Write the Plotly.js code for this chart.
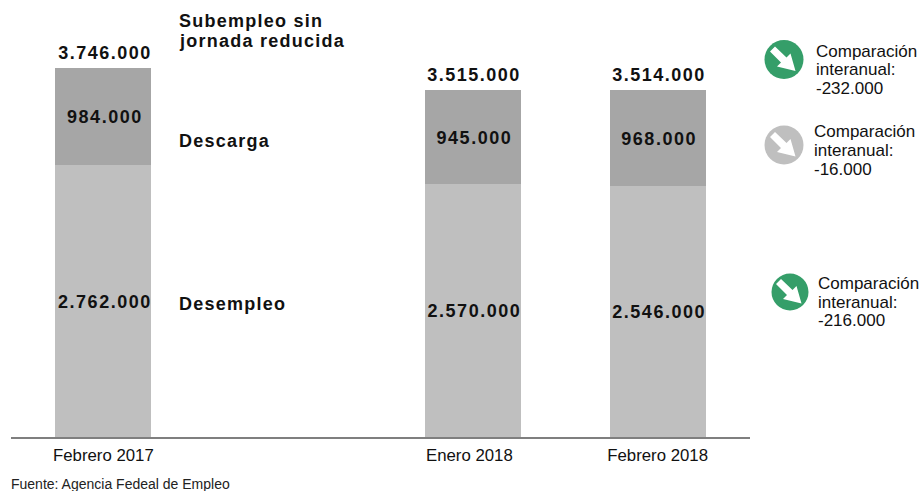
<!DOCTYPE html>
<html><head><meta charset="utf-8">
<script src="https://cdn.plot.ly/plotly-3.0.1.min.js"></script>
<style>
html,body{margin:0;padding:0;background:#fff}
</style></head><body><div id="c" style="width:924px;height:491px"></div>
<script>
const categories = ["Febrero 2017", " ", "Enero 2018", "Febrero 2018"];
const desempleo = [2762000, null, 2570000, 2546000];
const descarga = [984000, null, 945000, 968000];
const totals = [3746000, null, 3515000, 3514000];
const comparisons = [-232000, -16000, -216000];
const source = "Fuente: Agencia Fedeal de Empleo";

const fmt = v => (v < 0 ? "-" : "") + Math.abs(v).toString().replace(/\B(?=(\d{3})+$)/g, ".");
const W = 924, H = 491, L = 11, R = 174, T = 4, B = 54;
const px = x => (x - L) / (W - L - R);
const py = y => 1 - (y - T) / (H - T - B);
const boldF = {family: "Liberation Sans", size: 18, weight: 700, color: "#111"};

function icon(cx, cy, r, color) {
  const pts = [[-9,-13],[2.5,-2],[6.5,-6],[11.5,11.5],[-7,7],[-3,3],[-14,-8]];
  const d = "M" + pts.map(p => px(cx + p[0]) + "," + py(cy + p[1])).join("L") + "Z";
  return [
    {type: "circle", xref: "paper", yref: "paper", x0: px(cx - r), x1: px(cx + r), y0: py(cy + r), y1: py(cy - r), fillcolor: color, line: {width: 0}},
    {type: "path", xref: "paper", yref: "paper", path: d, fillcolor: "#fff", line: {width: 0}}
  ];
}
const note = (x, y, text, font) => ({xref: "paper", yref: "paper", x: px(x - 2), y: py(y), xanchor: "left", yanchor: "middle", align: "left", showarrow: false, text, font});
const cmpFont = {family: "Liberation Sans", size: 17, color: "#111"};
const cmpLines = (x, ys, v) => [
  note(x, ys[0], "Comparación", cmpFont),
  note(x, ys[1], "interanual:", cmpFont),
  note(x, ys[2], fmt(v), cmpFont)
];

const traces = [
  {type: "bar", x: categories, y: desempleo, marker: {color: "#bfbfbf"}, text: desempleo.map(v => v == null ? "" : fmt(v)), textposition: "inside", insidetextanchor: "middle", textangle: 0, textfont: boldF, hoverinfo: "skip"},
  {type: "bar", x: categories, y: descarga, marker: {color: "#a6a6a6"}, text: descarga.map(v => v == null ? "" : fmt(v)), textposition: "inside", insidetextanchor: "middle", textangle: 0, textfont: boldF, hoverinfo: "skip"}
];
const annotations = [];
totals.forEach((t, i) => { if (t != null) annotations.push({x: categories[i], y: t, xref: "x", yref: "y", yanchor: "bottom", xanchor: "center", yshift: 3, xshift: 1.5, showarrow: false, text: fmt(t), font: boldF}); });
annotations.push(
  note(179, 21, "Subempleo sin", boldF),
  note(179, 41, "jornada reducida", boldF),
  note(179, 141, "Descarga", boldF),
  note(179, 304, "Desempleo", boldF),
  ...cmpLines(816, [51, 70, 88], comparisons[0]),
  ...cmpLines(814, [131, 150, 169], comparisons[1]),
  ...cmpLines(818, [283, 302, 320], comparisons[2]),
  note(11, 484, source, {family: "Liberation Sans", size: 14, color: "#222"})
);
const layout = {
  width: W, height: H, margin: {l: L, r: R, t: T, b: B, pad: 0},
  paper_bgcolor: "#fff", plot_bgcolor: "#fff", showlegend: false, barmode: "stack", bargap: 0.48,
  xaxis: {type: "category", categoryorder: "array", categoryarray: categories, range: [-0.5, 3.5], showgrid: false, zeroline: false, showline: true, linecolor: "#7f7f7f", linewidth: 2, ticks: "", ticklabelstandoff: 2, tickfont: {family: "Liberation Sans", size: 16.8, color: "#111"}},
  yaxis: {range: [0, 4390000], visible: false, showgrid: false, zeroline: false},
  shapes: [].concat(icon(784, 59.5, 19.5, "#359e69"), icon(784, 145, 19.5, "#bfbfbf"), icon(790, 292, 18.5, "#359e69")),
  annotations
};
Plotly.newPlot("c", traces, layout, {displayModeBar: false, staticPlot: true}).then(() => {
  document.querySelectorAll("#c text").forEach(t => {
    const s = t.textContent;
    if (getComputedStyle(t).fontWeight >= 600) t.style.letterSpacing = /^[a-zA-Z]/.test(s) ? "1.25px" : "1.5px";
    if (/^\d\.\d{3}\.\d{3}$|^\d{3}\.\d{3}$/.test(s) && t.closest(".bars, .barlayer")) { t.setAttribute("dx", "1.5"); t.setAttribute("dy", "1"); }
    if (s === "Enero 2018") t.setAttribute("dx", "-3.5");
  });
});
</script></body></html>
